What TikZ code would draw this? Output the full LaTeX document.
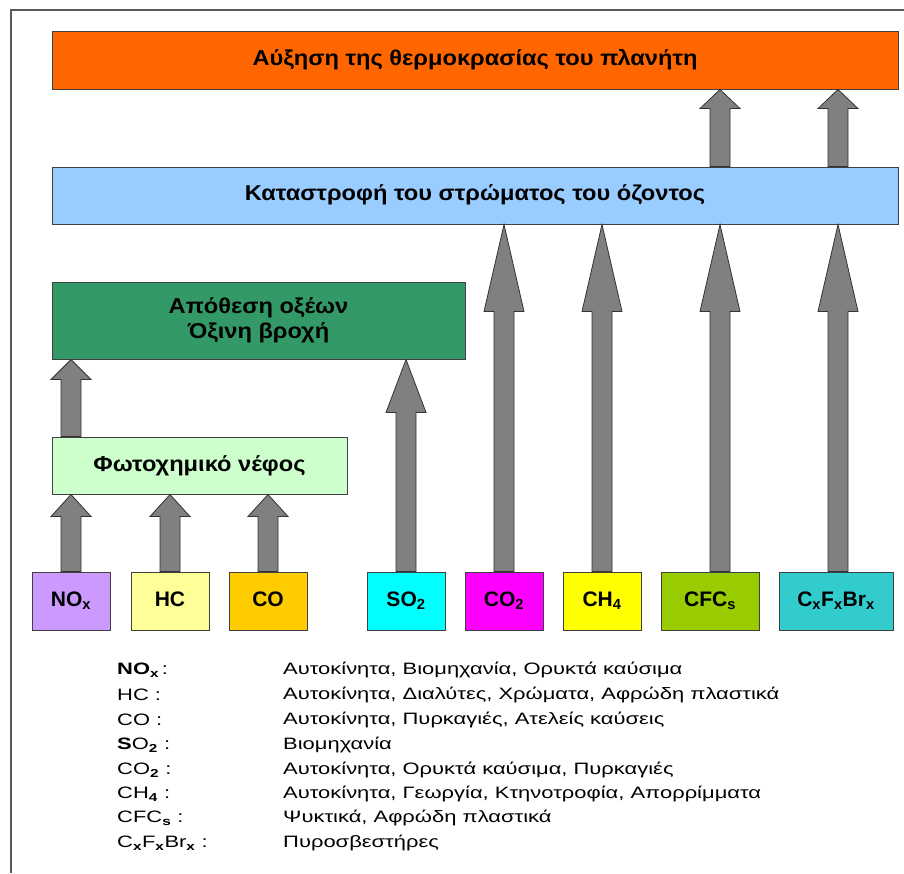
\documentclass[tikz,border=0pt]{standalone}
\usepackage{fontspec}
\setmainfont{Liberation Sans}
\newfontfamily\boxfont[FakeStretch=1.1]{Liberation Sans}
\newfontfamily\legendfont[FakeStretch=1.33]{Liberation Sans}
\usetikzlibrary{calc}

\definecolor{heatorange}{HTML}{FF6600}
\definecolor{ozoneblue}{HTML}{99CCFF}
\definecolor{acidgreen}{HTML}{339966}
\definecolor{smoggreen}{HTML}{CCFFCC}
\definecolor{noxviolet}{HTML}{CC99FF}
\definecolor{hcyellow}{HTML}{FFFF99}
\definecolor{cogold}{HTML}{FFCC00}
\definecolor{sotwocyan}{HTML}{00FFFF}
\definecolor{cotwomagenta}{HTML}{FF00FF}
\definecolor{chfouryellow}{HTML}{FFFF00}
\definecolor{cfcgreen}{HTML}{99CC00}
\definecolor{halonteal}{HTML}{33CCCC}
\definecolor{arrowgray}{HTML}{808080}

\tikzset{
  box/.style={draw=black!75, line width=1pt, inner sep=0pt, align=center,
    font=\boxfont\bfseries\fontsize{21.5}{28}\selectfont},
  gasbox/.style={box, minimum width=78pt, minimum height=58pt,
    font=\bfseries\fontsize{21}{24}\selectfont},
  blockarrow/.style={draw=black!80, fill=arrowgray, line width=0.8pt, line join=miter},
  legend/.style={anchor=west, inner sep=0pt, font=\legendfont\fontsize{16.5}{20}\selectfont}
}

% block arrow: start point, target node (its y), head length
\newcommand\blockup[3]{%
  \draw[blockarrow] let \p1=(#1), \p2=(#2) in
    (\x1-10pt,\y1) -- (\x1-10pt,\y2-#3) -- (\x1-20pt,\y2-#3) -- (\x1,\y2)
    -- (\x1+20pt,\y2-#3) -- (\x1+10pt,\y2-#3) -- (\x1+10pt,\y1) -- cycle;}

\begin{document}
\begin{tikzpicture}[x=1pt,y=-1pt]
  \useasboundingbox (0,0) rectangle (904,873);
  % frame
  \draw[black!65, line width=1.3pt] (904,10) -- (11,10) -- (11,873);

  % effects
  \node[box, fill=heatorange, minimum width=846pt, minimum height=58pt] (heat) at (475,60)
    {\raisebox{6pt}{Αύξηση της θερμοκρασίας του πλανήτη}};
  \node[box, fill=ozoneblue, minimum width=846pt, minimum height=57pt] (ozone) at (475,195.5)
    {\raisebox{6pt}{Καταστροφή του στρώματος του όζοντος}};
  \node[box, fill=acidgreen, minimum width=413pt, minimum height=77pt] (acid) at (258.5,320.5)
    {\raisebox{3pt}{\shortstack{Απόθεση οξέων\\[2pt]Όξινη βροχή}}};
  \node[box, fill=smoggreen, minimum width=295pt, minimum height=57pt] (foto) at (199.5,465.5)
    {\raisebox{2pt}{Φωτοχημικό νέφος}};

  % pollutants
  \node[gasbox, fill=noxviolet] (nox) at (71,601) {\raisebox{3pt}{NO\textsubscript{x}}};
  \node[gasbox, fill=hcyellow] (hc) at (170,601) {\raisebox{3pt}{HC}};
  \node[gasbox, fill=cogold] (co) at (268,601) {\raisebox{3pt}{CO}};
  \node[gasbox, fill=sotwocyan] (sotwo) at (406,601) {\raisebox{3pt}{SO\textsubscript{2}}};
  \node[gasbox, fill=cotwomagenta] (cotwo) at (504,601) {\raisebox{3pt}{CO\textsubscript{2}}};
  \node[gasbox, fill=chfouryellow] (chfour) at (602,601) {\raisebox{3pt}{CH\textsubscript{4}}};
  \node[gasbox, fill=cfcgreen, minimum width=98pt] (cfc) at (710,601)
    {\raisebox{3pt}{CFC\textsubscript{s}}};
  \node[gasbox, fill=halonteal, minimum width=114pt] (halon) at (836,601)
    {\raisebox{3pt}{C\textsubscript{x}F\textsubscript{x}Br\textsubscript{x}}};

  \coordinate (cfcx) at (720,0);
  \coordinate (halonx) at (838,0);

  % arrows
  \blockup{nox.north}{foto.south}{22pt}
  \blockup{hc.north}{foto.south}{22pt}
  \blockup{co.north}{foto.south}{22pt}
  \blockup{foto.north -| nox.north}{acid.south}{20pt}
  \blockup{sotwo.north}{acid.south}{53pt}
  \blockup{cotwo.north}{ozone.south}{87pt}
  \blockup{chfour.north}{ozone.south}{87pt}
  \blockup{cfc.north -| cfcx}{ozone.south}{87pt}
  \blockup{halon.north -| halonx}{ozone.south}{87pt}
  \blockup{ozone.north -| cfcx}{heat.south}{19pt}
  \blockup{ozone.north -| halonx}{heat.south}{19pt}

  % sources
  \node[legend] (lnox) at (117,670) {\textbf{NO\textsubscript{x}}\,:};
  \node[legend] (lhc) at (117,695) {HC :};
  \node[legend] (lco) at (117,720) {CO :};
  \node[legend] (lsotwo) at (117,745) {\textbf{S}O\textsubscript{\textbf{2}} :};
  \node[legend] (lcotwo) at (117,770) {CO\textsubscript{\textbf{2}} :};
  \node[legend] (lchfour) at (117,794) {CH\textsubscript{\textbf{4}} :};
  \node[legend] (lcfc) at (117,818) {CFC\textsubscript{\textbf{s}} :};
  \node[legend] (lhalon) at (117,843)
    {C\textsubscript{\textbf{x}}F\textsubscript{\textbf{x}}Br\textsubscript{\textbf{x}} :};

  \node[legend] (snox) at (283,670) {Αυτοκίνητα, Βιομηχανία, Ορυκτά καύσιμα};
  \node[legend] (shc) at (283,695) {Αυτοκίνητα, Διαλύτες, Χρώματα, Αφρώδη πλαστικά};
  \node[legend] (sco) at (283,720) {Αυτοκίνητα, Πυρκαγιές, Ατελείς καύσεις};
  \node[legend] (ssotwo) at (283,745) {Βιομηχανία};
  \node[legend] (scotwo) at (283,770) {Αυτοκίνητα, Ορυκτά καύσιμα, Πυρκαγιές};
  \node[legend] (schfour) at (283,794) {Αυτοκίνητα, Γεωργία, Κτηνοτροφία, Απορρίμματα};
  \node[legend] (scfc) at (283,818) {Ψυκτικά, Αφρώδη πλαστικά};
  \node[legend] (shalon) at (283,843) {Πυροσβεστήρες};
\end{tikzpicture}
\end{document}
